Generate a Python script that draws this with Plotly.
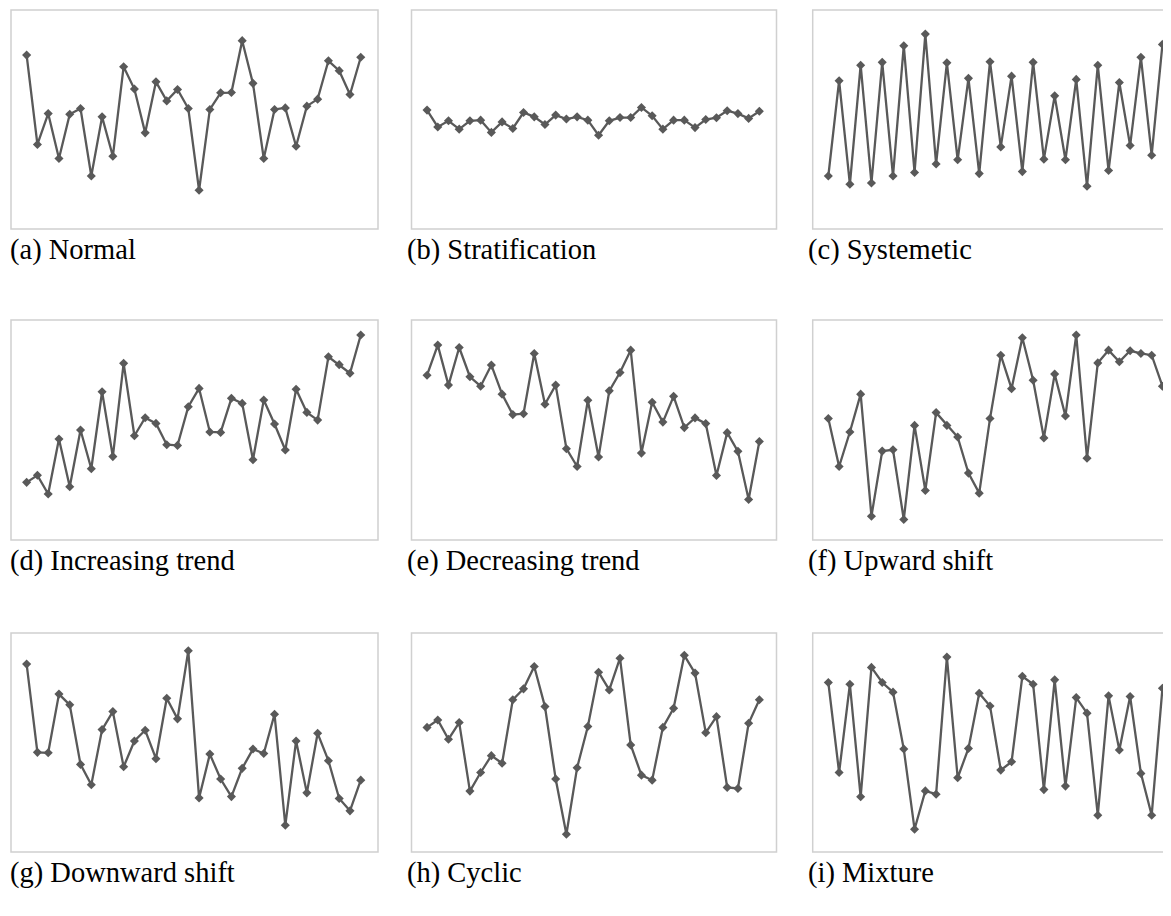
import plotly.graph_objects as go

# the page body adds an 8px margin, so the figure is drawn 8px smaller and coordinates shifted
OFF = 8
W, H = 1171 - OFF, 916 - OFF

captions = ["(a) Normal", "(b) Stratification", "(c) Systemetic",
            "(d) Increasing trend", "(e) Decreasing trend", "(f) Upward shift",
            "(g) Downward shift", "(h) Cyclic", "(i) Mixture"]

normal = [79.4, 38.6, 52.7, 32.2, 52.4, 55.0, 24.2, 51.2, 33.2, 74.1, 63.9, 43.9, 67.2, 58.5, 63.7, 55.0,
          17.7, 54.6, 62.2, 62.3, 86.0, 66.5, 32.2, 54.6, 55.3, 37.8, 56.1, 59.3, 76.8, 72.3, 61.4, 78.4]
stratification = [54.3, 46.6, 49.4, 45.6, 49.4, 49.7, 44.1, 48.9, 45.9, 53.2, 51.2, 47.7, 52.0, 50.2, 51.2, 49.7,
                  42.8, 49.4, 50.9, 50.9, 55.5, 51.7, 45.6, 49.7, 49.7, 46.3, 50.0, 50.8, 54.0, 52.7, 50.5, 53.8]
systematic = [24.2, 67.7, 20.4, 74.8, 21.0, 76.1, 24.2, 83.7, 25.8, 89.0, 29.7, 75.9, 31.6, 68.8, 25.3, 76.4,
              37.5, 69.8, 26.2, 76.1, 31.9, 60.8, 31.6, 68.3, 19.5, 74.8, 26.7, 66.9, 38.1, 78.4, 33.7, 84.3]
increasing = [26.2, 29.4, 20.9, 45.9, 24.2, 50.0, 32.4, 67.4, 37.9, 80.3, 47.4, 55.6, 53.0, 43.3, 43.0, 60.6,
              68.9, 49.1, 48.9, 64.4, 62.1, 36.5, 63.6, 52.7, 40.9, 68.5, 58.0, 54.5, 83.3, 79.7, 75.8, 93.2]
decreasing = [74.9, 88.6, 70.4, 87.5, 74.2, 69.9, 79.5, 66.3, 57.0, 57.4, 84.8, 61.7, 70.4, 41.5, 33.4, 63.5,
              37.7, 67.8, 76.1, 86.3, 39.5, 62.6, 53.6, 65.3, 51.1, 55.5, 52.9, 29.3, 48.8, 40.3, 18.4, 44.8]
upward = [55.2, 33.4, 49.1, 66.3, 10.8, 40.4, 41.0, 9.3, 52.1, 22.5, 57.9, 52.1, 46.8, 30.4, 21.3, 55.2,
          84.0, 68.8, 91.9, 72.6, 46.4, 75.4, 56.4, 93.2, 37.2, 80.5, 86.3, 81.0, 86.0, 84.8, 84.0, 69.9]
downward = [85.8, 45.5, 45.3, 72.1, 67.2, 40.0, 30.7, 55.9, 64.1, 38.9, 50.7, 55.6, 42.6, 70.2, 60.8, 91.9,
            24.7, 44.7, 33.3, 25.3, 38.2, 47.0, 45.0, 62.9, 12.2, 50.7, 27.0, 54.2, 41.7, 24.4, 18.8, 32.8]
cyclic = [56.9, 60.3, 51.5, 59.1, 27.8, 36.3, 44.0, 40.5, 69.5, 74.5, 84.7, 66.4, 33.3, 8.1, 38.5, 57.3,
          82.1, 74.0, 88.5, 48.9, 35.1, 32.8, 56.9, 65.6, 89.8, 81.7, 54.5, 61.8, 29.5, 29.0, 58.8, 69.5]
mixture = [77.4, 36.3, 76.6, 25.2, 84.3, 77.4, 73.0, 47.0, 10.4, 27.9, 26.4, 89.0, 33.9, 47.3, 72.5, 66.7,
           37.4, 41.2, 80.2, 76.6, 28.5, 78.6, 30.1, 70.5, 63.4, 16.8, 71.3, 46.6, 71.0, 35.9, 16.8, 74.8]

series = [normal, stratification, systematic, increasing, decreasing, upward, downward, cyclic, mixture]

# pixel geometry of panel boxes (page coordinates)
col_x = [(11, 378), (411.5, 776.5), (812.7, 1179.7)]
row_y = [(10, 229), (320, 540), (633, 852)]
caption_y = [250, 561, 873]

LINE = "#595959"
BOX = "#d0d0d0"

fig = go.Figure()
shapes = []
annotations = []
for i, vals in enumerate(series):
    r, c = divmod(i, 3)
    x0, x1 = col_x[c][0] - OFF, col_x[c][1] - OFF
    y0, y1 = row_y[r][0] - OFF, row_y[r][1] - OFF
    idx = i + 1
    xa = "x" if idx == 1 else f"x{idx}"
    ya = "y" if idx == 1 else f"y{idx}"
    fig.add_trace(go.Scatter(
        x=list(range(len(vals))), y=vals, mode="lines+markers",
        line=dict(color=LINE, width=2.3),
        marker=dict(symbol="diamond", size=7, color=LINE),
        xaxis=xa, yaxis=ya, showlegend=False, hoverinfo="skip", cliponaxis=False))
    dx1 = min(x1, W)
    full_range = (-1.45, 32.6)
    scale = (full_range[1] - full_range[0]) / (x1 - x0)
    rend = full_range[0] + (dx1 - x0) * scale
    axkey = "xaxis" if idx == 1 else f"xaxis{idx}"
    aykey = "yaxis" if idx == 1 else f"yaxis{idx}"
    fig.layout[axkey] = dict(domain=[x0 / W, dx1 / W], range=[full_range[0], rend],
                             visible=False, anchor=ya, fixedrange=True)
    fig.layout[aykey] = dict(domain=[1 - y1 / H, 1 - y0 / H], range=[0, 100],
                             visible=False, anchor=xa, fixedrange=True)
    shapes.append(dict(type="rect", xref="paper", yref="paper",
                       x0=x0 / W, x1=x1 / W, y0=1 - y1 / H, y1=1 - y0 / H,
                       line=dict(color=BOX, width=1.5), fillcolor="rgba(0,0,0,0)", layer="below"))
    annotations.append(dict(text=captions[i], xref="paper", yref="paper",
                            x=max(0.0, x0 - 7) / W, y=1 - (caption_y[r] - OFF) / H,
                            xanchor="left", yanchor="middle", showarrow=False,
                            font=dict(family="Liberation Serif, Times New Roman, serif",
                                      size=28.5, color="#000000")))

fig.update_layout(width=W, height=H, margin=dict(l=0, r=0, t=0, b=0),
                  paper_bgcolor="white", plot_bgcolor="rgba(0,0,0,0)",
                  shapes=shapes, annotations=annotations)

fig.write_html("out.html", config={"displayModeBar": False})
